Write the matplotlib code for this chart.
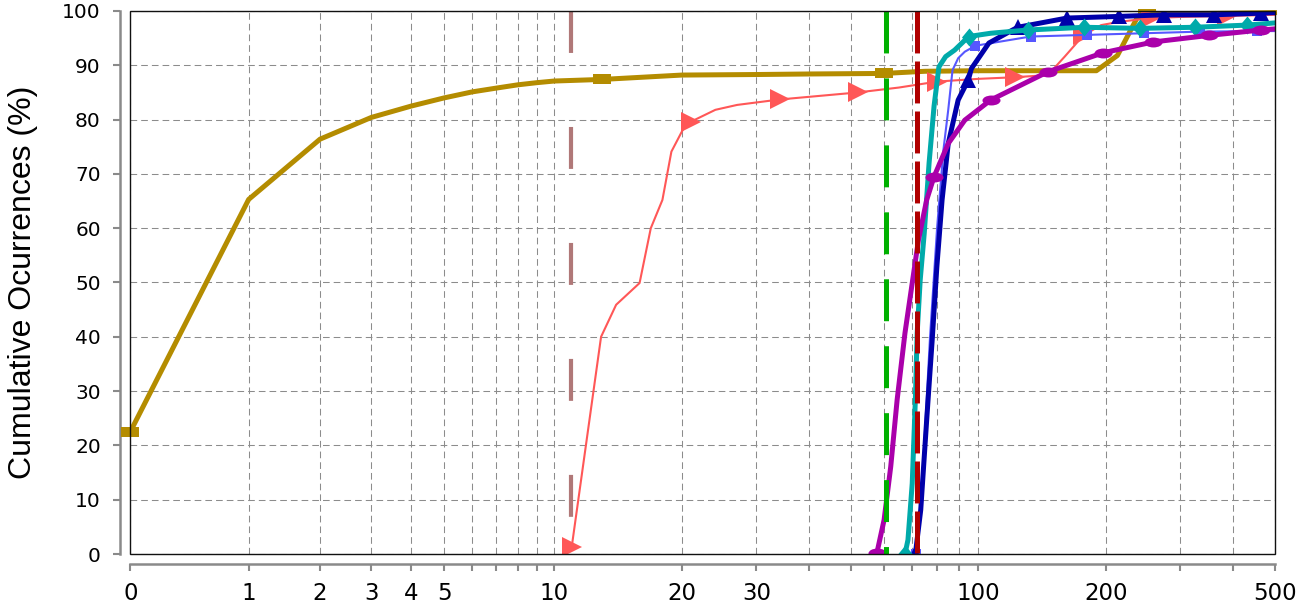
import matplotlib
matplotlib.use('Agg')
import matplotlib.pyplot as plt
import numpy as np
from matplotlib.path import Path
from matplotlib.patches import Rectangle
from matplotlib.ticker import FixedLocator, NullFormatter

plt.rcParams['font.family'] = ['Liberation Sans', 'DejaVu Sans']
plt.rcParams['lines.scale_dashes'] = False

# ---- data ----
gold_x = [0, 1, 2, 3, 4, 5, 6, 7, 8, 9, 10, 13, 20, 30, 40, 60, 75, 100, 150, 190, 213, 238, 250, 300, 400, 500]
gold_y = [22.5, 65.3, 76.4, 80.4, 82.5, 84.0, 85.1, 85.8, 86.4, 86.8, 87.1, 87.4, 88.2, 88.3, 88.4, 88.5,
          88.9, 89.0, 89.0, 89.0, 91.8, 99.0, 99.4, 99.5, 99.6, 99.7]
gold_marks = [0, 11, 15, 22]

salmon_x = [11, 12.9, 14, 15.9, 16.9, 18, 18.9, 20.1, 21, 24, 27, 34, 52, 65, 80, 100, 122, 146, 160,
            177, 195, 215, 255, 300, 386, 450, 500]
salmon_y = [1.3, 40, 45.9, 49.9, 60, 65.2, 74.1, 78.1, 79.6, 81.8, 82.7, 83.7, 85.0, 85.9, 87.0, 87.5,
            87.8, 88.2, 91.6, 95.5, 97.4, 98.0, 98.7, 98.9, 99.1, 99.2, 99.3]
salmon_marks = [0, 8, 11, 12, 14, 16, 19, 22, 24]

lblue_x = [71.5, 74, 77, 80, 82.8, 85, 87, 89.7, 93, 98.5, 133, 181, 246, 334, 455, 500]
lblue_y = [0, 15, 40, 60, 74.4, 81.8, 89.1, 91.3, 92.5, 93.6, 95.3, 95.6, 95.9, 96.2, 96.3, 96.3]
lblue_marks = [0, 9, 10, 11, 12, 13, 14]

teal_x = [67.2, 68.3, 69.9, 71.1, 71.8, 73.0, 74.6, 76.6, 78.7, 80.8, 83.8, 88, 95, 107, 131, 178,
          241, 324, 430, 500]
teal_y = [0, 2.6, 13, 28.4, 40.7, 50.5, 59, 72, 82.5, 89.7, 91.6, 92.8, 95.3, 95.9, 96.5, 97.0,
          96.8, 97.0, 97.4, 97.8]
teal_marks = [0, 12, 14, 15, 16, 17, 18]

dblue_x = [71.1, 73.2, 75.7, 77.9, 79.9, 82.2, 85, 89.7, 94.8, 96.4, 106, 118.6, 124, 162, 215, 275,
           360, 465, 500]
dblue_y = [0, 8.1, 25.3, 39.4, 52.9, 65.2, 75.6, 83.6, 87.3, 89.4, 94.1, 96.2, 97.0, 98.7, 99.0, 99.3,
           99.3, 99.6, 99.7]
dblue_marks = [0, 8, 12, 13, 14, 15, 16, 17]

mag_x = [57.7, 60, 62.2, 64.4, 67.2, 69.9, 72.3, 75.6, 78.7, 85, 93, 107, 146, 197, 259, 350, 465, 500]
mag_y = [0.2, 6.3, 16.1, 28.4, 40.7, 49.9, 57.8, 65.2, 69.5, 75.6, 79.9, 83.6, 88.8, 92.3, 94.3,
         95.5, 96.5, 96.7]
mag_marks = [0, 8, 11, 12, 13, 14, 15, 16]

# vertical threshold lines
thresh_x = [10.95, 60.5, 71.6]

x_major = [0, 1, 2, 3, 4, 5, 10, 20, 30, 100, 200, 500]
x_minor = [6, 7, 8, 9, 40, 50, 60, 70, 80, 90, 300, 400]
y_ticks = list(range(0, 101, 10))


# ---- custom x scale: log(x+c) below 10, plain log above ----
def fwd(x):
    x = np.asarray(x, dtype=float)
    lo = 423.0 * np.log10(np.clip(x, -1.0, 10.0) + 1.105) + 111.9
    hi = 554.15 + 424.0 * np.log10(np.clip(x, 10.0, None) / 10.0)
    return np.where(x <= 10, lo, hi)


def inv(y):
    y = np.asarray(y, dtype=float)
    lo = 10 ** ((np.minimum(y, 554.15) - 111.9) / 423.0) - 1.105
    hi = 10.0 * 10 ** ((np.maximum(y, 554.15) - 554.15) / 424.0)
    return np.where(y <= 554.15, lo, hi)


# ---- marker shapes ----
rect_m = Path([(-1, -0.55), (1, -0.55), (1, 0.55), (-1, 0.55), (-1, -0.55)],
              [Path.MOVETO, Path.LINETO, Path.LINETO, Path.LINETO, Path.CLOSEPOLY])
circ = Path.unit_circle()
ell_m = Path(circ.vertices * np.array([1.0, 0.55]), circ.codes)
diam_m = Path([(0, 1), (0.83, 0), (0, -1), (-0.83, 0), (0, 1)],
              [Path.MOVETO, Path.LINETO, Path.LINETO, Path.LINETO, Path.CLOSEPOLY])

fig = plt.figure(figsize=(13.04, 6.07), dpi=100)
ax = fig.add_axes([0.0999, 0.0873, 0.8775, 0.8946])
ax.set_xscale('function', functions=(fwd, inv))
ax.set_xlim(0, 500)
ax.set_ylim(0, 100)

# grid
grid_kw = dict(color='#8c8c8c', linewidth=0.75, dashes=(4.8, 2.9))
ax.set_axisbelow(True)
ax.xaxis.set_major_locator(FixedLocator(x_major))
ax.xaxis.set_minor_locator(FixedLocator(x_minor))
ax.xaxis.set_minor_formatter(NullFormatter())
ax.set_xticklabels([str(v) for v in x_major])
ax.set_yticks(y_ticks)
ax.grid(True, which='both', axis='x', **grid_kw)
ax.grid(True, which='major', axis='y', **grid_kw)

# series
ax.plot(gold_x, gold_y, color='#B48C00', lw=3.6, marker=rect_m, ms=13, mew=0,
        markevery=gold_marks, clip_on=False, zorder=3)
ax.plot(salmon_x, salmon_y, color='#FF5757', lw=1.5, marker='>', ms=14, mew=0,
        markevery=salmon_marks, zorder=4)
ax.plot(lblue_x, lblue_y, color='#5757FF', lw=1.5, marker='s', ms=7.5, mew=0,
        markevery=lblue_marks, zorder=5)
ax.plot(dblue_x, dblue_y, color='#0000AA', lw=3.6, marker='^', ms=12, mew=0,
        markevery=dblue_marks, zorder=6)
ax.plot(teal_x, teal_y, color='#00AAAA', lw=3.6, marker=diam_m, ms=13, mew=0,
        markevery=teal_marks, zorder=7)
ax.plot(mag_x, mag_y, color='#AA00AA', lw=3.6, marker=ell_m, ms=13, mew=0,
        markevery=mag_marks, zorder=8)

# dashed threshold lines, dash pattern starts at the top
thr_colors = ['#B07878', '#00B000', '#B00000']
thr_dashes = [(30.2, 53.3), (30.2, 18.0), (30.2, 5.8)]
thr_width = [3.0, 3.6, 3.6]
for xv, c, d, w in zip(thresh_x, thr_colors, thr_dashes, thr_width):
    ax.plot([xv, xv], [ax.get_ylim()[1], ax.get_ylim()[0]], color=c, lw=w,
            dashes=d, dash_capstyle='butt', zorder=9)

# frame and offset gray axes
for s in ['top', 'right']:
    ax.spines[s].set_visible(False)
for s in ['left', 'bottom']:
    ax.spines[s].set_position(('outward', 7.2))
    ax.spines[s].set_color('#8a8a8a')
    ax.spines[s].set_linewidth(1.8)
ax.add_patch(Rectangle((0, 0), 1, 1, transform=ax.transAxes, fill=False,
                       edgecolor='#111111', linewidth=1.0, zorder=10, clip_on=False))

ax.tick_params(axis='both', which='both', direction='out', length=5, width=1.5,
               color='#8a8a8a')
ax.tick_params(axis='x', which='major', labelsize=16.5, pad=8,
               labelfontfamily='DejaVu Sans')
ax.tick_params(axis='y', labelsize=14.5, pad=9, labelfontfamily='DejaVu Sans')

ax.set_ylabel('Cumulative Ocurrences (%)', fontsize=23)
ax.yaxis.set_label_coords(-0.081, 0.5)

fig.savefig('out.png', dpi=100)
